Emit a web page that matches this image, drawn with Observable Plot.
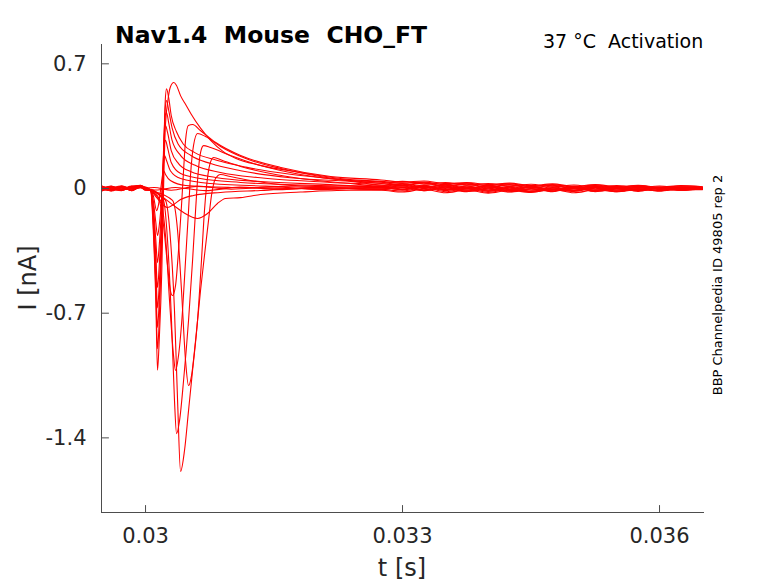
<!DOCTYPE html>
<html><head><meta charset="utf-8">
<script src="https://cdn.jsdelivr.net/npm/d3@7"></script>
<script src="https://cdn.jsdelivr.net/npm/@observablehq/plot@0.6"></script>
<style>
body{margin:0;background:#fff;}
#wrap{position:relative;width:778px;height:583px;font-family:"DejaVu Sans",sans-serif;color:#262626;overflow:hidden;}
#wrap svg{position:absolute;left:0;top:0;}
.t{position:absolute;white-space:pre;line-height:1;}
</style></head><body>
<div id="wrap">
<div class="t" id="title" style="left:115px;top:24px;font-size:23.5px;font-weight:bold;color:#000;">Nav1.4  Mouse  CHO_FT</div>
<div class="t" id="sub" style="left:543px;top:32px;font-size:19px;color:#000;">37 °C  Activation</div>
<div class="t" id="side" style="left:717px;top:285px;font-size:13px;color:#000;transform:translate(-50%,-50%) rotate(-90deg);">BBP Channelpedia ID 49805 rep 2</div>
<div class="t" id="ylab" style="left:28px;top:278px;font-size:24px;transform:translate(-50%,-50%) rotate(-90deg);">I [nA]</div>
<div class="t" id="xlab" style="left:402px;top:568px;font-size:24px;transform:translate(-50%,-50%);">t [s]</div>
</div>
<script>
// axis ticks
const xTicks = [0.03, 0.033, 0.036];
const yTicks = [0.7, 0, -0.7, -1.4];
const xDomain = [0.029486, 0.036525];
const yDomain = [-1.819, 0.8085];

// shared sampling times (ms) of baseline before the step and of the late tail
const headTimes = [29.49, 29.6, 29.72, 29.84, 29.94, 30.0];
const tailTimes = [32.75, 33.0, 33.25, 33.5, 33.75, 34.0, 34.25, 34.5, 34.75, 35.0, 35.25, 35.5, 35.75, 36.0, 36.25, 36.5];

// trace names
const traceNames = ["F1","F2","F3","F4","F5","F6","F7","F8","M5","M4","M3","M2","M1","S1","S0","N1","N2"];

// baseline values (nA) at headTimes
const headF1 = [0.010,-0.008,0.014,0.000,0.016,0.006];
const headF2 = [-0.008,0.010,-0.006,0.012,0.004,-0.004];
const headF3 = [0.004,-0.012,0.008,-0.010,0.014,0.002];
const headF4 = [-0.012,0.004,-0.010,0.008,0.010,-0.006];
const headF5 = [0.014,-0.002,0.010,-0.012,0.008,0.000];
const headF6 = [-0.004,0.014,-0.008,0.004,0.018,-0.008];
const headF7 = [0.008,-0.010,0.012,-0.004,0.004,0.006];
const headF8 = [-0.010,0.006,-0.002,0.014,0.010,-0.010];
const headM5 = [0.012,-0.006,-0.012,0.010,0.016,0.002];
const headM4 = [-0.014,0.008,0.002,-0.008,0.008,0.008];
const headM3 = [-0.002,0.012,-0.010,0.012,0.014,-0.006];
const headM2 = [0.010,-0.014,0.006,-0.002,0.018,0.002];
const headM1 = [-0.008,0.004,0.014,-0.010,0.006,0.000];
const headS1 = [0.004,0.010,-0.008,0.006,0.014,-0.004];
const headS0 = [-0.010,-0.004,0.010,-0.012,0.012,0.004];
const headN1 = [0.012,-0.002,-0.008,0.010,0.016,0.002];
const headN2 = [-0.004,-0.012,0.010,0.002,0.008,-0.008];

// main response points [ms, nA]
const midF1 = [[30.06,-0.01],[30.09,-0.23],[30.12,-0.63],[30.14,-1.02],[30.16,-0.85],[30.19,-0.46],[30.21,-0.01],[30.23,0.33],[30.26,0.49],[30.29,0.57],[30.33,0.595],[30.36,0.58],[30.41,0.52],[30.47,0.47],[30.53,0.42],[30.64,0.34],[30.76,0.27],[30.90,0.21],[31.05,0.17],[31.34,0.13],[31.81,0.09],[32.39,0.05]];
const midF2 = [[30.06,-0.01],[30.09,-0.20],[30.12,-0.57],[30.14,-0.90],[30.16,-0.74],[30.19,-0.29],[30.21,0.15],[30.23,0.49],[30.245,0.56],[30.27,0.51],[30.30,0.41],[30.36,0.32],[30.44,0.25],[30.58,0.20],[30.82,0.16],[31.17,0.12],[31.69,0.08],[32.39,0.045]];
const midF3 = [[30.06,-0.01],[30.09,-0.17],[30.12,-0.52],[30.14,-0.78],[30.16,-0.63],[30.19,-0.24],[30.21,0.157],[30.23,0.45],[30.245,0.494],[30.27,0.44],[30.31,0.34],[30.38,0.25],[30.53,0.185],[30.76,0.14],[31.11,0.10],[31.69,0.06],[32.51,0.034]];
const midF4 = [[30.06,-0.01],[30.09,-0.15],[30.12,-0.43],[30.14,-0.67],[30.16,-0.54],[30.19,-0.18],[30.21,0.185],[30.23,0.41],[30.245,0.427],[30.27,0.37],[30.31,0.27],[30.41,0.185],[30.58,0.13],[30.875,0.09],[31.34,0.06],[32.16,0.034]];
const midF5 = [[30.06,-0.01],[30.09,-0.12],[30.12,-0.376],[30.14,-0.556],[30.16,-0.432],[30.19,-0.124],[30.21,0.213],[30.233,0.354],[30.257,0.315],[30.30,0.213],[30.385,0.14],[30.525,0.095],[30.82,0.062],[31.34,0.039],[32.16,0.022]];
const midF6 = [[30.06,-0.01],[30.09,-0.09],[30.12,-0.29],[30.14,-0.416],[30.16,-0.32],[30.19,-0.067],[30.21,0.185],[30.233,0.27],[30.257,0.23],[30.30,0.146],[30.41,0.084],[30.64,0.056],[31.11,0.034],[32.04,0.017]];
const midF7 = [[30.06,-0.01],[30.09,-0.067],[30.12,-0.19],[30.14,-0.264],[30.16,-0.208],[30.19,-0.039],[30.21,0.14],[30.222,0.185],[30.245,0.157],[30.29,0.10],[30.41,0.056],[30.76,0.028],[31.58,0.011]];
const midF8 = [[30.06,-0.01],[30.09,-0.039],[30.13,-0.124],[30.15,-0.095],[30.175,-0.011],[30.20,0.079],[30.21,0.101],[30.233,0.079],[30.29,0.045],[30.47,0.017],[31.0,0.006]];
const midM5 = [[30.06,-0.01],[30.16,-0.067],[30.21,-0.208],[30.257,-0.432],[30.29,-0.573],[30.315,-0.601],[30.35,-0.545],[30.385,-0.348],[30.42,-0.095],[30.444,0.101],[30.467,0.27],[30.50,0.354],[30.55,0.359],[30.64,0.326],[30.82,0.258],[31.11,0.185],[31.58,0.118],[32.16,0.067]];
const midM4 = [[30.06,-0.01],[30.175,-0.067],[30.233,-0.264],[30.28,-0.629],[30.327,-0.938],[30.35,-1.022],[30.385,-0.938],[30.432,-0.685],[30.467,-0.404],[30.502,-0.124],[30.525,0.073],[30.56,0.241],[30.607,0.309],[30.70,0.292],[30.875,0.236],[31.17,0.168],[31.58,0.112],[32.04,0.067]];
const midM3 = [[30.06,-0.01],[30.21,-0.067],[30.257,-0.292],[30.303,-0.741],[30.338,-1.19],[30.362,-1.376],[30.397,-1.303],[30.444,-1.078],[30.502,-0.741],[30.549,-0.404],[30.584,-0.124],[30.607,0.045],[30.642,0.202],[30.677,0.241],[30.759,0.23],[30.992,0.185],[31.342,0.129],[31.809,0.079],[32.393,0.045]];
const midM2 = [[30.06,-0.01],[30.233,-0.067],[30.292,-0.292],[30.338,-0.685],[30.374,-1.19],[30.409,-1.589],[30.455,-1.471],[30.502,-1.247],[30.549,-1.022],[30.607,-0.741],[30.653,-0.404],[30.688,-0.124],[30.712,0.011],[30.747,0.129],[30.794,0.174],[30.899,0.157],[31.109,0.124],[31.459,0.084],[31.809,0.056],[32.393,0.028]];
const midM1 = [[30.06,-0.01],[30.315,-0.067],[30.374,-0.236],[30.42,-0.573],[30.467,-0.966],[30.502,-1.106],[30.537,-1.05],[30.584,-0.853],[30.642,-0.573],[30.688,-0.376],[30.735,-0.180],[30.77,-0.039],[30.817,0.056],[30.875,0.079],[30.99,0.067],[31.226,0.045],[31.576,0.022],[32.04,0.011]];
const midS1 = [[30.06,-0.005],[30.175,-0.039],[30.327,-0.095],[30.444,-0.135],[30.607,-0.168],[30.724,-0.14],[30.84,-0.084],[30.934,-0.056],[31.109,-0.051],[31.342,-0.034],[31.809,-0.02],[32.393,-0.01]];
const midS0 = [[30.06,-0.01],[30.128,-0.05],[30.21,-0.095],[30.257,-0.107],[30.327,-0.09],[30.409,-0.062],[30.56,-0.039],[30.875,-0.022],[31.342,-0.011],[32.0,0.004]];
const midN1 = [[30.1,0.006],[30.3,-0.01],[30.6,0.012],[31.0,-0.004],[31.5,0.009],[32.0,-0.006],[32.5,0.004]];
const midN2 = [[30.12,-0.008],[30.35,0.006],[30.7,-0.012],[31.1,0.008],[31.6,-0.006],[32.1,0.01],[32.5,-0.004]];

// late tail values (nA) at tailTimes
const tailF1 = [0.040,0.030,0.036,0.022,0.030,0.016,0.026,0.012,0.022,0.008,0.020,0.006,0.016,0.004,0.014,0.008];
const tailF2 = [0.028,0.016,0.030,0.010,0.024,0.004,0.020,0.002,0.018,-0.002,0.014,0.000,0.012,-0.004,0.010,0.004];
const tailF3 = [0.018,0.028,0.008,0.022,0.002,0.018,-0.004,0.014,-0.006,0.012,-0.004,0.010,-0.006,0.008,-0.002,0.006];
const tailF4 = [0.020,0.006,0.018,-0.004,0.014,-0.008,0.012,-0.010,0.010,-0.008,0.008,-0.010,0.006,-0.006,0.006,0.000];
const tailF5 = [0.008,0.020,0.000,0.014,-0.010,0.010,-0.012,0.008,-0.014,0.006,-0.012,0.004,-0.010,0.006,-0.008,0.002];
const tailF6 = [0.012,-0.002,0.016,-0.008,0.008,-0.014,0.004,-0.016,0.002,-0.012,0.006,-0.014,0.000,-0.010,0.004,-0.004];
const tailF7 = [0.002,0.014,-0.008,0.008,-0.016,0.002,-0.018,0.000,-0.014,0.006,-0.016,0.000,-0.012,0.004,-0.010,0.000];
const tailF8 = [-0.004,-0.014,0.006,-0.018,0.002,-0.022,-0.004,-0.020,-0.008,-0.016,0.002,-0.018,-0.006,-0.012,0.000,-0.006];
const tailM5 = [0.048,0.036,0.042,0.028,0.034,0.022,0.030,0.016,0.026,0.012,0.022,0.010,0.018,0.008,0.016,0.010];
const tailM4 = [0.030,0.040,0.024,0.034,0.018,0.028,0.012,0.024,0.010,0.020,0.006,0.016,0.004,0.014,0.004,0.008];
const tailM3 = [0.036,0.020,0.032,0.014,0.026,0.008,0.022,0.002,0.018,0.000,0.016,-0.002,0.012,0.000,0.010,0.002];
const tailM2 = [0.012,0.024,0.004,0.018,-0.002,0.014,-0.006,0.012,-0.008,0.010,-0.010,0.008,-0.006,0.006,-0.004,0.002];
const tailM1 = [0.006,-0.006,0.012,-0.012,0.004,-0.016,0.002,-0.018,-0.002,-0.014,0.004,-0.016,-0.004,-0.010,0.002,-0.004];
const tailS1 = [-0.010,-0.020,-0.004,-0.024,-0.008,-0.026,-0.010,-0.022,-0.004,-0.024,-0.008,-0.018,-0.002,-0.014,-0.006,-0.006];
const tailS0 = [-0.002,0.006,-0.012,0.000,-0.018,-0.002,-0.020,-0.004,-0.016,0.004,-0.018,-0.002,-0.012,0.004,-0.010,-0.002];
const tailN1 = [0.008,-0.008,0.012,-0.006,0.014,-0.010,0.008,-0.016,0.006,-0.010,0.012,-0.008,0.006,-0.014,0.006,0.000];
const tailN2 = [-0.006,0.010,-0.012,0.008,-0.008,0.014,-0.014,0.008,-0.018,0.006,-0.010,0.012,-0.016,0.006,-0.008,0.002];

const heads = [headF1,headF2,headF3,headF4,headF5,headF6,headF7,headF8,headM5,headM4,headM3,headM2,headM1,headS1,headS0,headN1,headN2];
const mids = [midF1,midF2,midF3,midF4,midF5,midF6,midF7,midF8,midM5,midM4,midM3,midM2,midM1,midS1,midS0,midN1,midN2];
const tails = [tailF1,tailF2,tailF3,tailF4,tailF5,tailF6,tailF7,tailF8,tailM5,tailM4,tailM3,tailM2,tailM1,tailS1,tailS0,tailN1,tailN2];

const rows = [];
traceNames.forEach((name, i) => {
  heads[i].forEach((v, j) => rows.push({trace: name, t: headTimes[j], I: v}));
  mids[i].forEach(([t, v]) => rows.push({trace: name, t, I: v}));
  tails[i].forEach((v, j) => rows.push({trace: name, t: tailTimes[j], I: v}));
});

const fmt = d => String(d);
const axisColor = "#4d4d4d";
// straight tick shape for inward ticks
const tickShape = {draw(context, l) { context.moveTo(0, 0); context.lineTo(0, -l); }};

const chart = Plot.plot({
  width: 778, height: 583,
  marginLeft: 101, marginRight: 74, marginTop: 44, marginBottom: 71,
  style: {fontFamily: "DejaVu Sans, sans-serif", fontSize: "21px", color: "#262626", background: "transparent", overflow: "visible"},
  x: {domain: xDomain, axis: null},
  y: {domain: yDomain, axis: null},
  marks: [
    Plot.line(rows, {x: d => d.t / 1000, y: "I", z: "trace", stroke: "#ff0000", strokeWidth: 1.1, curve: "monotone-x", clip: true}),
    Plot.ruleX([xDomain[0]], {stroke: axisColor, strokeWidth: 1}),
    Plot.ruleY([yDomain[0]], {stroke: axisColor, strokeWidth: 1}),
    Plot.vector(yTicks, {x: () => xDomain[0], y: d => d, length: 7, rotate: 90, anchor: "start", shape: tickShape, stroke: axisColor, strokeWidth: 1}),
    Plot.vector(xTicks, {x: d => d, y: () => yDomain[0], length: 7, rotate: 0, anchor: "start", shape: tickShape, stroke: axisColor, strokeWidth: 1}),
    Plot.axisY(yTicks, {tickSize: 0, tickPadding: 15, tickFormat: fmt, fill: "#262626", fontSize: 21, label: null}),
    Plot.axisX(xTicks, {tickSize: 0, tickPadding: 16, tickFormat: fmt, fill: "#262626", fontSize: 21, label: null})
  ]
});
document.getElementById("wrap").prepend(chart);
</script>
</body></html>
